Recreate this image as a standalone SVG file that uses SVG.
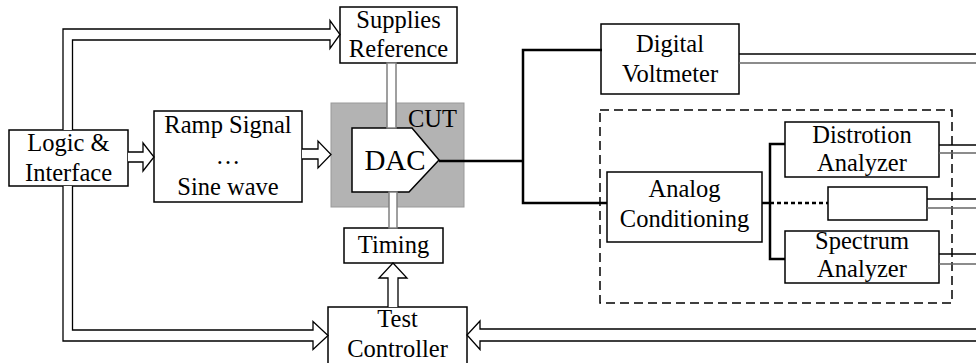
<svg xmlns="http://www.w3.org/2000/svg" width="976" height="363" viewBox="0 0 976 363">
  <style>
    .box { fill: #fff; stroke: #000; stroke-width: 1.5; }
    .lbl { font-family: "Times New Roman", Times, "Liberation Serif", serif; font-size: 24.5px; fill: #000; text-anchor: middle; }
    .bus { fill: none; stroke: #000; stroke-width: 2.5; }
    .hollow { fill: #fff; stroke: #000; stroke-width: 1.3; }
    .pin { fill: #fff; stroke: #808080; stroke-width: 1.5; }
    .wireA { stroke: #000; stroke-width: 1.3; }
    .wireB { stroke: #666; stroke-width: 1.3; }
  </style>
  <rect width="976" height="363" fill="#fff"/>

  <g id="logic">
    <rect class="box" x="9" y="130" width="119" height="56"/>
    <text class="lbl" x="68.5" y="151">Logic &amp;</text>
    <text class="lbl" x="68.5" y="181">Interface</text>
  </g>

  <g id="ramp">
    <rect class="box" x="154" y="111" width="148" height="91"/>
    <text class="lbl" x="228" y="133">Ramp Signal</text>
    <text class="lbl" x="228" y="164">…</text>
    <text class="lbl" x="228" y="195">Sine wave</text>
  </g>

  <g id="supplies">
    <rect class="box" x="340" y="7" width="117" height="56"/>
    <text class="lbl" x="398.5" y="28">Supplies</text>
    <text class="lbl" x="398.5" y="57">Reference</text>
  </g>

  <g id="cut">
    <rect x="331" y="103" width="133" height="104" fill="#b3b3b3" stroke="#999" stroke-width="1"/>
    <text class="lbl" x="457" y="127" style="text-anchor:end">CUT</text>
  </g>

  <g id="dac">
    <polygon class="box" points="352,128 412,128 439,160 409,192 352,192"/>
    <text class="lbl" x="395" y="170" style="font-size:29px">DAC</text>
  </g>

  <g id="timing">
    <rect class="box" x="344" y="228" width="99" height="35"/>
    <text class="lbl" x="393.5" y="253">Timing</text>
  </g>

  <g id="controller">
    <rect class="box" x="328" y="307" width="139" height="70"/>
    <text class="lbl" x="397.5" y="327">Test</text>
    <text class="lbl" x="397.5" y="357">Controller</text>
  </g>

  <g id="voltmeter">
    <rect class="box" x="601" y="24" width="138" height="70"/>
    <text class="lbl" x="670" y="52">Digital</text>
    <text class="lbl" x="670" y="82">Voltmeter</text>
  </g>

  <g id="analysis">
    <rect x="600" y="110" width="352" height="193" fill="none" stroke="#000" stroke-width="1.5" stroke-dasharray="9,5"/>
  </g>

  <g id="conditioning">
    <rect class="box" x="607" y="172" width="155" height="70"/>
    <text class="lbl" x="684.5" y="197">Analog</text>
    <text class="lbl" x="684.5" y="227">Conditioning</text>
  </g>

  <g id="distortion">
    <rect class="box" x="785" y="122" width="154" height="55"/>
    <text class="lbl" x="862" y="143">Distrotion</text>
    <text class="lbl" x="862" y="171">Analyzer</text>
  </g>

  <g id="blank">
    <rect class="box" x="828" y="187" width="99" height="33"/>
  </g>

  <g id="spectrum">
    <rect class="box" x="785" y="231" width="154" height="52"/>
    <text class="lbl" x="862" y="249">Spectrum</text>
    <text class="lbl" x="862" y="277">Analyzer</text>
  </g>

  <g id="connectors">
    <!-- hollow bus arrows -->
    <path class="hollow" d="M63,130 V29 H330 V20.5 L340,34.5 L330,48.5 V40 H72.5 V130"/>
    <path class="hollow" d="M63,186 V341 H313 V349.5 L328,335.5 L313,321.5 V330 H72.5 V186"/>
    <path class="hollow" d="M128,152 H143 V143 L154,157 L143,171 V162 H128"/>
    <path class="hollow" d="M302,149 H318 V141 L331,154.5 L318,168 V159 H302"/>
    <path class="hollow" d="M388,307 V278 H379 L393,263 L407,278 H398 V307"/>
    <path class="hollow" d="M977,329 H480 V321 L467,335 L480,349.5 V341 H977"/>
    <!-- supply and timing pins of the DAC -->
    <rect class="pin" x="387" y="63" width="9" height="65"/>
    <rect class="pin" x="389" y="192" width="8" height="36"/>
    <!-- analog signal paths -->
    <path class="bus" d="M439,161 H523"/>
    <path class="bus" d="M602,50 H523 V203 H607"/>
    <path class="bus" d="M762,203 H770"/>
    <path class="bus" d="M785,144 H770 V259 H785"/>
    <path class="bus" d="M770,203 H828" stroke-dasharray="4,3"/>
    <!-- result buses leaving to the right -->
    <line class="wireA" x1="739" y1="54" x2="976" y2="54"/>
    <line class="wireB" x1="739" y1="63" x2="976" y2="63"/>
    <line class="wireA" x1="939" y1="145" x2="976" y2="145"/>
    <line class="wireB" x1="939" y1="153" x2="976" y2="153"/>
    <line class="wireA" x1="927" y1="199" x2="976" y2="199"/>
    <line class="wireB" x1="927" y1="208" x2="976" y2="208"/>
    <line class="wireA" x1="939" y1="254" x2="976" y2="254"/>
    <line class="wireB" x1="939" y1="264" x2="976" y2="264"/>
  </g>
</svg>
